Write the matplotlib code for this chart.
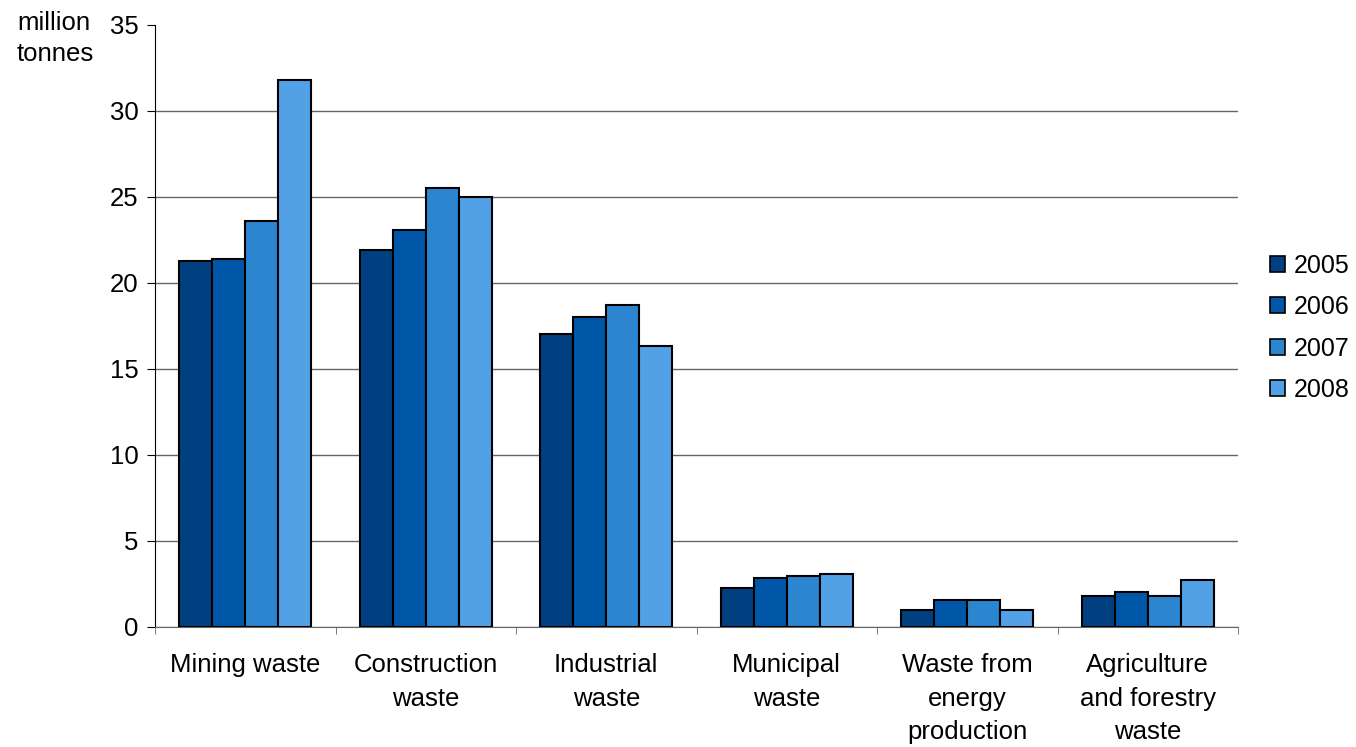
import numpy as np
import matplotlib.pyplot as plt
from matplotlib.patches import Patch

plt.rcParams['font.family'] = ['Liberation Sans', 'DejaVu Sans']

# Dados (milhões de toneladas)
categorias = ['Mining waste', 'Construction\nwaste', 'Industrial\nwaste',
              'Municipal\nwaste', 'Waste from\nenergy\nproduction',
              'Agriculture\nand forestry\nwaste']
anos = ['2005', '2006', '2007', '2008']
v2005 = [21.3, 21.9, 17.05, 2.27, 0.97, 1.80]
v2006 = [21.4, 23.1, 18.0, 2.85, 1.55, 2.03]
v2007 = [23.6, 25.5, 18.7, 2.97, 1.55, 1.80]
v2008 = [31.8, 25.0, 16.35, 3.10, 0.97, 2.75]
cores = ['#004080', '#0057A8', '#2B86CF', '#52A1E6']

series = [v2005, v2006, v2007, v2008]

fig = plt.figure(figsize=(13.56, 7.47), dpi=100)
ax = fig.add_axes([155 / 1356, 1 - 627 / 747, (1238 - 155) / 1356, (627 - 25) / 747])

x = np.arange(len(categorias))
w = 0.183
for i, vals in enumerate(series):
    ax.bar(x + (i - 1.5) * w, vals, width=w, color=cores[i],
           edgecolor='black', linewidth=1.5, zorder=3)

ax.set_xlim(-0.5, len(categorias) - 0.5)
ax.set_ylim(0, 35)
ax.set_yticks(range(0, 36, 5))
ax.yaxis.grid(True, color='#666666', linewidth=1, zorder=0)
ax.get_ygridlines()[-1].set_visible(False)
ax.set_axisbelow(True)

ax.set_xticks(x)
ax.set_xticklabels(categorias, fontsize=18.5, linespacing=1.48)
ax.set_xticks(np.arange(-0.5, len(categorias), 1), minor=True)
ax.tick_params(axis='x', which='major', length=0, pad=19)
ax.tick_params(axis='x', which='minor', length=5, direction='out', color='#666666')
ax.tick_params(axis='y', length=6, direction='out', labelsize=18.5, pad=6)

for s in ['top', 'right']:
    ax.spines[s].set_visible(False)
ax.spines['bottom'].set_color('#666666')
ax.spines['left'].set_color('black')

fig.text(17 / 1356, 1 - 11 / 747, 'million\ntonnes', fontsize=18.5, ha='left',
         va='top', linespacing=1.38)

handles = [Patch(facecolor=c, edgecolor='black', linewidth=1.2) for c in cores]
ax.legend(handles, anos, loc='center left', bbox_to_anchor=(1.02, 0.497),
          frameon=False, fontsize=18, handlelength=0.62, handleheight=0.62,
          handletextpad=0.35, labelspacing=0.7, borderaxespad=0.0)

fig.savefig('out.png', dpi=100)
